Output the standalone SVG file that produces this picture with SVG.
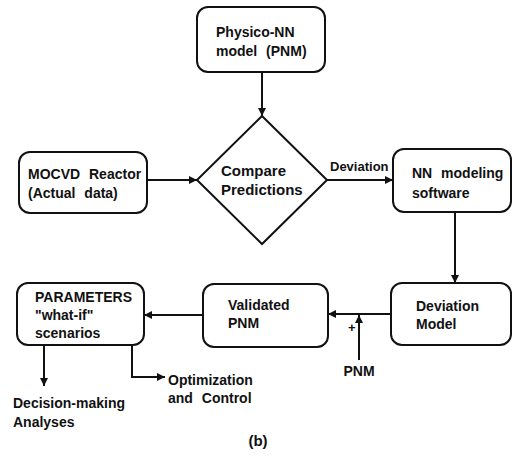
<svg xmlns="http://www.w3.org/2000/svg" width="514" height="462" viewBox="0 0 514 462">
<style>
.box{fill:#fff;stroke:#111;stroke-width:2}
.ln{fill:none;stroke:#111;stroke-width:2}
text{font-family:"Liberation Sans",Arial,sans-serif;font-size:14px;font-weight:bold;fill:#111;word-spacing:5px}
.sm{font-size:13px}
.lg{font-size:15px}
</style>
<defs>
<marker id="ah" viewBox="0 0 10 10" refX="10" refY="5" markerWidth="4.5" markerHeight="4" orient="auto" markerUnits="strokeWidth">
<path d="M0,0 L10,5 L0,10 z" fill="#111"/>
</marker>
</defs>
<rect width="514" height="462" fill="#fff"/>
<g id="connectors">
<line class="ln" x1="262" y1="72" x2="262" y2="116" marker-end="url(#ah)"/>
<line class="ln" x1="147" y1="180" x2="197" y2="180" marker-end="url(#ah)"/>
<line class="ln" x1="327" y1="180" x2="393" y2="180" marker-end="url(#ah)"/>
<line class="ln" x1="455" y1="212" x2="455" y2="283" marker-end="url(#ah)"/>
<line class="ln" x1="391" y1="314" x2="328" y2="314" marker-end="url(#ah)"/>
<line class="ln" x1="359" y1="360" x2="359" y2="315" marker-end="url(#ah)"/>
<line class="ln" x1="203" y1="315" x2="144" y2="315" marker-end="url(#ah)"/>
<line class="ln" x1="44" y1="345" x2="44" y2="386" marker-end="url(#ah)"/>
<polyline class="ln" points="132,345 132,377 165,377" marker-end="url(#ah)"/>
<text class="sm" x="330" y="171">Deviation</text>
<text class="sm" x="348" y="332">+</text>
<text x="359" y="376" text-anchor="middle">PNM</text>
</g>
<g id="pnm">
<rect class="box" x="197" y="7" width="128" height="65" rx="11"/>
<text x="216" y="37">Physico-NN</text>
<text x="216" y="56">model (PNM)</text>
</g>
<g id="compare">
<polygon class="box" points="262,116 327,180 262,244 197,180"/>
<text class="lg" x="221" y="176">Compare</text>
<text class="lg" x="221" y="195">Predictions</text>
</g>
<g id="mocvd">
<rect class="box" x="19" y="152" width="128" height="61" rx="11"/>
<text x="28" y="179">MOCVD Reactor</text>
<text x="28" y="198">(Actual data)</text>
</g>
<g id="nn">
<rect class="box" x="393" y="149" width="118" height="63" rx="11"/>
<text x="412" y="178">NN modeling</text>
<text x="412" y="198">software</text>
</g>
<g id="devmodel">
<rect class="box" x="391" y="283" width="120" height="62" rx="11"/>
<text x="416" y="311">Deviation</text>
<text x="416" y="329">Model</text>
</g>
<g id="validated">
<rect class="box" x="203" y="284" width="125" height="63" rx="11"/>
<text x="228" y="310">Validated</text>
<text x="228" y="328">PNM</text>
</g>
<g id="params">
<rect class="box" x="17" y="283" width="127" height="62" rx="11"/>
<text x="35" y="302">PARAMETERS</text>
<text x="35" y="320">"what-if"</text>
<text x="35" y="338">scenarios</text>
</g>
<g id="decision">
<text x="13" y="408">Decision-making</text>
<text x="13" y="427">Analyses</text>
</g>
<g id="optim">
<text x="168" y="385">Optimization</text>
<text x="168" y="403">and Control</text>
</g>
<g id="caption">
<text class="lg" x="258" y="446" text-anchor="middle">(b)</text>
</g>
</svg>
